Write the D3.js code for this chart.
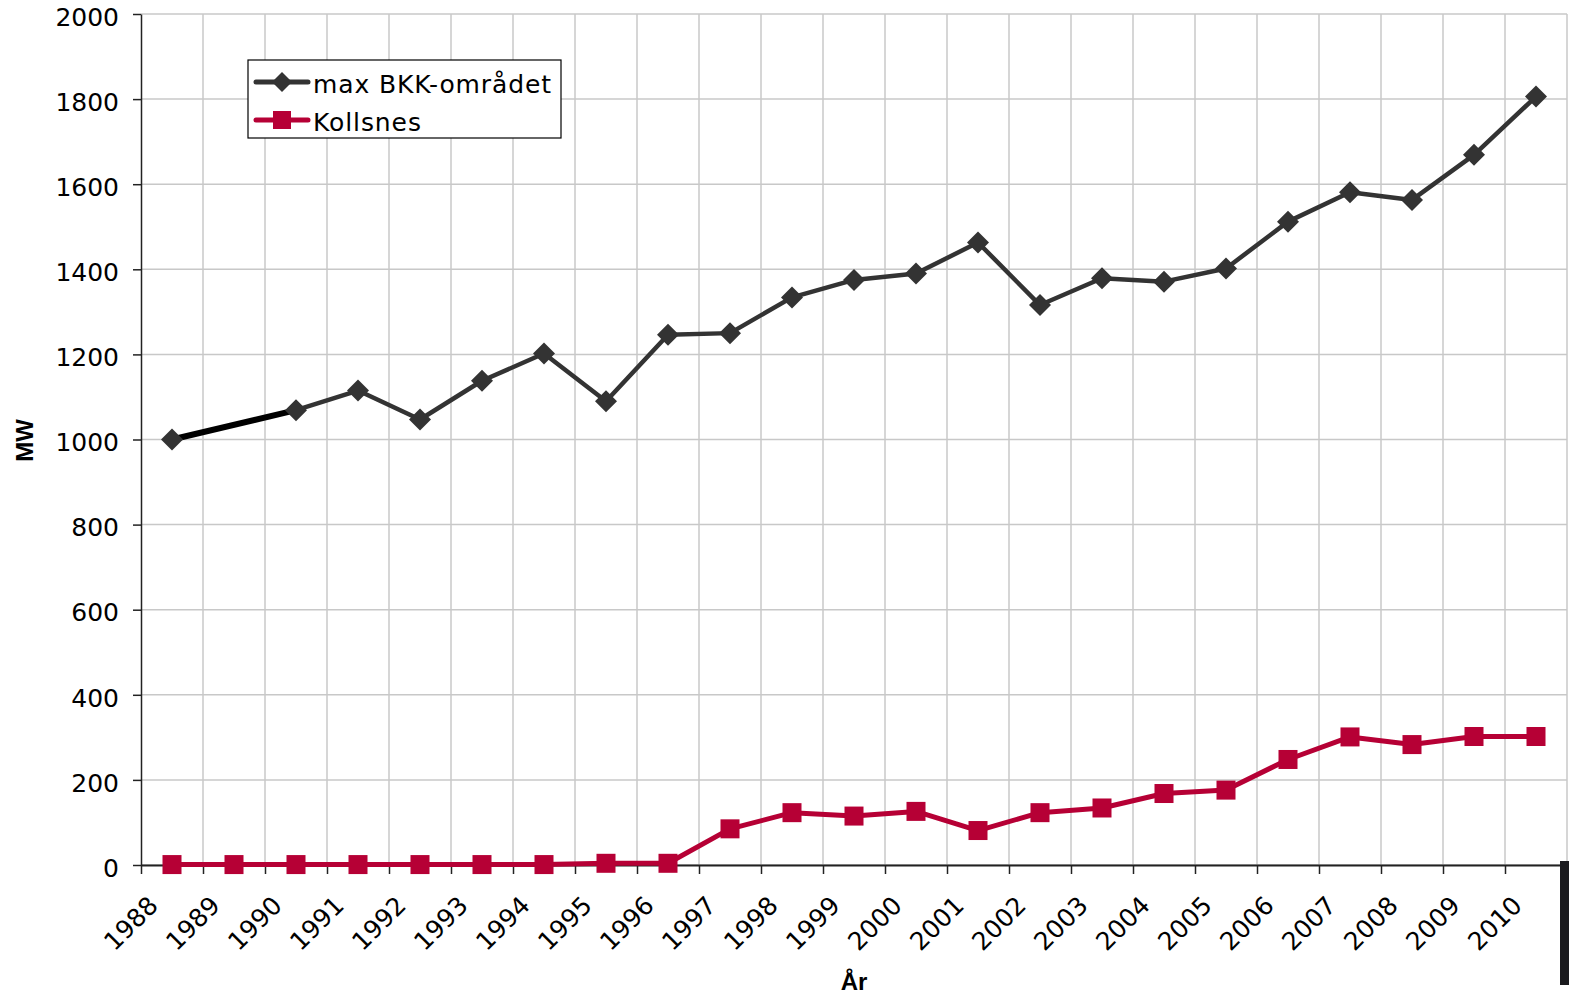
<!DOCTYPE html>
<html>
<head>
<meta charset="utf-8">
<script src="https://cdn.jsdelivr.net/npm/d3@7"></script>
<style>
  body { margin: 0; background: #fff; }
  svg { display: block; }
  .tick-label, .legend-text { font-family: Verdana, "DejaVu Sans", sans-serif; font-size: 25px; fill: #000; }
  .axis-title { font-family: Arial, "Liberation Sans", sans-serif; font-size: 24px; font-weight: bold; fill: #000; }
</style>
</head>
<body>
<div id="chart"></div>
<script>
// chart values
const years = ['1988', '1989', '1990', '1991', '1992', '1993', '1994', '1995', '1996', '1997', '1998', '1999',
               '2000', '2001', '2002', '2003', '2004', '2005', '2006', '2007', '2008', '2009', '2010'];
const bkkValues = [1000, null, 1069, 1115, 1047, 1138, 1202, 1090, 1246, 1250, 1334, 1375,
                   1390, 1463, 1316, 1379, 1371, 1402, 1512, 1581, 1563, 1669, 1806];
const kollsnesValues = [1, 1, 1, 1, 1, 1, 1, 4, 4, 85, 123, 115,
                        126, 81, 123, 134, 168, 176, 248, 301, 283, 302, 302];
const yTicks = [0, 200, 400, 600, 800, 1000, 1200, 1400, 1600, 1800, 2000];
const seriesNames = ['max BKK-området', 'Kollsnes'];

const width = 1569, height = 994;
const margin = {top: 14, right: 2, bottom: 129, left: 141};
const black = '#333333', red = '#b60035', gridColor = '#c8c8c8';

const svg = d3.select('#chart').append('svg')
    .attr('width', width)
    .attr('height', height);

const x = d3.scaleBand()
    .domain(years)
    .range([margin.left, width - margin.right]);

// category boundaries, used for ticks/gridlines (Excel style, between categories)
const xEdge = d3.scaleLinear()
    .domain([0, years.length])
    .range([margin.left, width - margin.right]);

const y = d3.scaleLinear()
    .domain([0, 2000])
    .range([height - margin.bottom, margin.top]);

const cx = d => x(d.year) + x.bandwidth() / 2;

// gridlines
svg.append('g')
    .selectAll('line')
    .data(yTicks)
    .join('line')
    .attr('x1', margin.left).attr('x2', width - margin.right)
    .attr('y1', d => y(d)).attr('y2', d => y(d))
    .attr('stroke', gridColor).attr('stroke-width', 1.5);

svg.append('g')
    .selectAll('line')
    .data(d3.range(1, years.length + 1))
    .join('line')
    .attr('x1', d => xEdge(d)).attr('x2', d => xEdge(d))
    .attr('y1', y(0)).attr('y2', y(2000))
    .attr('stroke', gridColor).attr('stroke-width', 1.5);

// y axis
const yAxis = d3.axisLeft(y)
    .tickValues(yTicks)
    .tickFormat(d3.format('d'))
    .tickSize(8)
    .tickSizeOuter(0)
    .tickPadding(14);

const yAxisG = svg.append('g')
    .attr('transform', `translate(${margin.left},0)`)
    .call(yAxis);
yAxisG.select('.domain').attr('stroke', '#222').attr('stroke-width', 1.5);
yAxisG.selectAll('.tick line').attr('stroke', '#222').attr('stroke-width', 1.5);
yAxisG.selectAll('.tick text')
    .attr('class', 'tick-label')
    .attr('font-family', null).attr('font-size', null)
    .attr('dy', '0.45em');

// x axis
const xAxis = d3.axisBottom(xEdge)
    .tickValues(d3.range(0, years.length))
    .tickFormat(i => years[i])
    .tickSize(9)
    .tickSizeOuter(0);

const xAxisG = svg.append('g')
    .attr('transform', `translate(0,${y(0)})`)
    .call(xAxis);
xAxisG.select('.domain').attr('stroke', '#222').attr('stroke-width', 2);
xAxisG.selectAll('.tick line').attr('stroke', '#222').attr('stroke-width', 1.5);
xAxisG.selectAll('.tick text')
    .attr('class', 'tick-label')
    .attr('font-family', null).attr('font-size', null)
    .attr('text-anchor', 'end')
    .attr('x', 18)
    .attr('y', 42)
    .attr('dy', null)
    .attr('transform', 'rotate(-45, 18, 42)');

// axis titles
svg.append('text')
    .attr('class', 'axis-title')
    .attr('text-anchor', 'middle')
    .attr('transform', `translate(33,${(y(0) + y(2000)) / 2 + 1}) rotate(-90)`)
    .text('MW');

svg.append('text')
    .attr('class', 'axis-title')
    .attr('text-anchor', 'middle')
    .attr('x', 854)
    .attr('y', 990)
    .text('År');

// series
const bkkData = years.map((year, i) => ({year, value: bkkValues[i]}));
const kollsnesData = years.map((year, i) => ({year, value: kollsnesValues[i]}));

const line = d3.line()
    .defined(d => d.value != null)
    .x(cx)
    .y(d => y(d.value));

// bridge over missing values (drawn black and a bit heavier, like the original)
const bridges = [];
bkkData.forEach((d, i) => {
    if (d.value == null) {
        let a = i - 1, b = i + 1;
        while (b < bkkData.length && bkkData[b].value == null) b++;
        if (a >= 0 && b < bkkData.length) bridges.push([bkkData[a], bkkData[b]]);
    }
});

svg.append('g')
    .selectAll('path')
    .data(bridges)
    .join('path')
    .attr('d', d => d3.line().x(cx).y(p => y(p.value))(d))
    .attr('fill', 'none')
    .attr('stroke', '#000')
    .attr('stroke-width', 6);

svg.append('path')
    .datum(bkkData)
    .attr('d', line)
    .attr('fill', 'none')
    .attr('stroke', black)
    .attr('stroke-width', 4.5)
    .attr('stroke-linejoin', 'round');

svg.append('path')
    .datum(kollsnesData)
    .attr('d', line)
    .attr('fill', 'none')
    .attr('stroke', red)
    .attr('stroke-width', 5)
    .attr('stroke-linejoin', 'round');

const diamond = (px, py, r) => `M${px},${py - r}L${px + r},${py}L${px},${py + r}L${px - r},${py}Z`;

svg.append('g')
    .selectAll('path')
    .data(bkkData.filter(d => d.value != null))
    .join('path')
    .attr('d', d => diamond(cx(d), y(d.value), 11))
    .attr('fill', black);

const sq = 19;
svg.append('g')
    .selectAll('rect')
    .data(kollsnesData)
    .join('rect')
    .attr('x', d => cx(d) - sq / 2)
    .attr('y', d => y(d.value) - sq / 2)
    .attr('width', sq)
    .attr('height', sq)
    .attr('fill', red);

// legend
const legend = svg.append('g').attr('transform', 'translate(248,60)');
legend.append('rect')
    .attr('width', 313).attr('height', 78)
    .attr('fill', '#fff')
    .attr('stroke', '#000').attr('stroke-width', 1.2);

const items = legend.selectAll('g.item')
    .data(seriesNames)
    .join('g')
    .attr('class', 'item')
    .attr('transform', (d, i) => `translate(0,${22 + i * 38})`);

items.append('line')
    .attr('x1', 8).attr('x2', 60)
    .attr('stroke', (d, i) => i === 0 ? black : red)
    .attr('stroke-width', 5)
    .attr('stroke-linecap', 'round');

items.each(function(d, i) {
    const g = d3.select(this);
    if (i === 0) {
        g.append('path').attr('d', diamond(34, 0, 10)).attr('fill', black);
    } else {
        g.append('rect').attr('x', 25).attr('y', -9).attr('width', 18).attr('height', 18).attr('fill', red);
    }
});

items.append('text')
    .attr('class', 'legend-text')
    .attr('x', 65)
    .attr('y', 11)
    .attr('letter-spacing', 0.9)
    .text(d => d);

// dark block at the bottom right edge of the original image
svg.append('rect')
    .attr('x', 1560).attr('y', 861)
    .attr('width', 9).attr('height', 124)
    .attr('fill', '#1a1a1e');
</script>
</body>
</html>
